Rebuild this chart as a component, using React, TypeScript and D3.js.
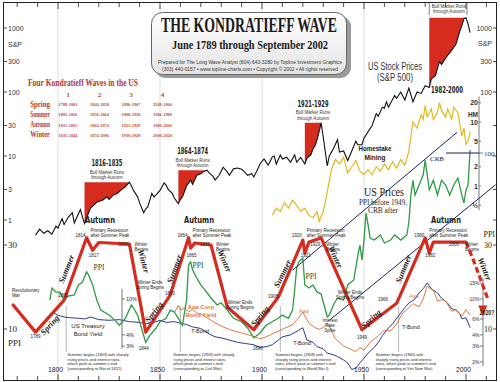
import React from "react";
import * as d3 from "d3";

type P = [number, number];

// ---------- DATA ----------
const SP_500: P[] = [
  [1789,0.58],[1791,0.72],[1793,0.62],[1795,0.68],[1797,0.60],[1799,0.80],[1800,0.75],[1802,1.05],[1803,0.85],
  [1805,1.1],[1807,1.3],[1808,0.9],[1810,1.25],[1811,1.45],[1812,1.1],[1813,0.88],[1815,1.3],[1816,1.55],
  [1818,1.75],[1819,1.9],[1821,2.0],[1822,2.05],[1824,2.3],[1825,2.1],[1827,2.45],[1829,2.6],[1831,2.95],
  [1833,3.3],[1835,3.9],[1836,3.4],[1837,2.9],[1839,2.3],[1840,1.85],[1842,1.3],[1843,1.5],[1844,1.6],
  [1846,2.6],[1847,2.3],[1848,2.45],[1850,2.9],[1852,3.8],[1853,3.5],[1854,3.0],[1856,2.6],[1857,2.2],
  [1859,1.8],[1860,2.1],[1861,2.3],[1863,3.4],[1865,4.2],[1866,3.6],[1868,5.0],[1870,5.3],[1871,5.6],
  [1873,6.0],[1874,5.5],[1876,4.8],[1877,4.2],[1879,5.0],[1881,6.7],[1883,5.6],[1884,5.0],[1886,6.3],
  [1888,6.5],[1890,6.2],[1891,5.8],[1893,5.0],[1895,5.3],[1896,4.7],[1898,6.3],[1899,7.5],[1901,9.0],
  [1903,7.2],[1905,9.6],[1906,10.0],[1907,7.5],[1909,10.4],[1910,9.0],[1912,9.6],[1914,8.0],[1916,10.4],
  [1917,8.0],[1919,9.5],[1921,7.5],[1922,9.2],[1924,10.5],[1925,13],[1926,14.5],[1927,18],[1928,24],
  [1929,33],[1930,20],[1932,7],[1933,10],[1935,13],[1937,18],[1938,11.5],[1940,12],[1942,8.5],[1944,12],
  [1946,17],[1947,15],[1949,15],[1950,19],[1952,24],[1954,30],[1956,46],[1957,42],[1959,58],[1960,56],
  [1961,70],[1962,58],[1965,88],[1966,80],[1968,100],[1970,75],[1972,115],[1974,70],[1976,100],[1978,95],
  [1980,125],[1982,118],[1983,160],[1985,180],[1987,300],[1988,270],[1990,340],[1993,450],[1995,550],
  [1996,700],[1997,900],[1998,1100],[1999,1400],[2000,1450],[2001,1150],[2002,850]
];

const BULL_RUNS: [number, number][] = [[1813,1835],[1859,1873],[1921,1929],[1982,2000]];
const BULL_LABELS = ["1816-1835","1864-1874","1921-1929","1982-2000"];

const HOMESTAKE: P[] = [
  [1905,0.35],[1907,0.45],[1909,0.4],[1911,0.55],[1913,0.45],[1915,0.6],[1917,0.5],[1919,0.4],[1921,0.45],
  [1923,0.35],[1925,0.32],[1927,0.4],[1928,0.28],[1930,0.4],[1931,0.55],[1933,1.2],[1934,1.8],[1936,2.6],
  [1938,2.2],[1940,2.8],[1942,1.6],[1944,2.0],[1946,2.5],[1948,1.7],[1950,1.5],[1952,1.8],[1954,1.5],
  [1956,2.0],[1958,1.7],[1960,2.2],[1962,1.8],[1964,2.4],[1966,1.9],[1968,2.6],[1970,2.1],[1972,3.5],
  [1973,6],[1974,10],[1976,8],[1978,13],[1979,11],[1980,18],[1981,12],[1983,16],[1984,11],[1986,14],
  [1987,20],[1988,15],[1990,12],[1991,16],[1993,11],[1994,17],[1996,14],[1997,9],[1998,6],[1999,8],
  [2000,4.5],[2001,5],[2002,7]
];

const US_PRICES: P[] = [
  [1796,14.6],[1797,17.1],[1799,16.2],[1801,16.2],[1803,14.6],[1805,15.4],[1808,15.6],[1810,17.8],[1812,18.5],
  [1814,21.1],[1815,20.3],[1817,17.8],[1819,14.6],[1821,12.8],[1825,12.0],[1828,11.2],[1830,10.5],[1833,11.5],
  [1836,13.7],[1837,13.2],[1839,12.0],[1843,8.4],[1845,9.2],[1848,10.1],[1850,11.0],[1853,11.5],[1855,12.8],
  [1857,12.5],[1859,11.5],[1861,10.5],[1863,14.6],[1864,23.1],[1865,24.0],[1866,21.6],[1868,19.5],[1870,17.8],
  [1872,16.7],[1875,15.0],[1878,13.7],[1880,14.1],[1883,12.8],[1886,11.5],[1890,11.0],[1893,10.1],[1896,8.9],
  [1899,9.5],[1902,10.5],[1905,11.0],[1908,11.5],[1910,12.0],[1913,11.5],[1915,12.8],[1916,16.7],[1917,22.2],
  [1918,24.0],[1920,25.3],[1921,17.8],[1923,17.1],[1925,17.8],[1927,16.2],[1929,15.8],[1932,11.7],[1933,12.0],
  [1935,13.7],[1937,15.0],[1940,14.6],[1942,17.8],[1945,19.0],[1947,26.3],[1948,30],[1949,24.7],[1950,32],
  [1951,45.6],[1952,39],[1953,32.9],[1955,32],[1958,34.2],[1960,30.8],[1963,32],[1965,34.2],[1968,32],
  [1971,34.2],[1972,40.5],[1973,57.7],[1974,70],[1975,57.7],[1977,65.8],[1979,75],[1980,91],[1981,75],
  [1982,61.7],[1984,70],[1986,57.7],[1988,70],[1990,65.8],[1992,57.7],[1994,65.8],[1996,72],[1998,57.7],
  [1999,52],[2000,61.7],[2001,65.8],[2002,104]
];

const T_BOND: P[] = [
  [1798,7.0],[1800,6.6],[1803,6.3],[1806,6.2],[1810,6.1],[1813,6.0],[1816,6.3],[1820,5.9],[1825,5.8],[1830,5.9],
  [1835,5.6],[1840,5.5],[1843,5.3],[1847,5.5],[1850,5.8],[1853,5.5],[1857,5.6],[1860,5.4],[1863,5.2],[1866,4.9],
  [1870,4.7],[1874,4.1],[1877,3.8],[1880,3.7],[1884,3.5],[1888,3.3],[1892,3.2],[1896,3.1],[1899,2.9],[1902,2.95],
  [1905,3.1],[1908,3.5],[1910,3.8],[1914,4.0],[1918,4.5],[1920,4.8],[1922,3.5],[1925,3.3],[1927,2.95],[1930,2.8],
  [1932,2.5],[1935,2.4],[1937,2.3],[1940,2.1],[1942,1.95],[1944,1.65],[1946,1.7],[1948,1.95],[1950,2.2],
  [1952,2.5],[1955,2.9],[1957,3.3],[1959,3.9],[1961,4.5],[1964,5.3],[1968,7.0],[1970,8.0],[1972,9.0],
  [1975,10.0],[1977,11.7],[1979,13],[1981,15.1],[1983,13],[1986,11.7],[1988,10.2],[1991,9.0],[1993,7.8],
  [1995,7.55],[1997,6.8],[1998,6.0],[2000,6.2],[2002,4.8]
];

const AAA_CORP: P[] = [
  [1857,7.0],[1859,8.5],[1860,7.5],[1862,8.0],[1864,7.2],[1866,7.6],[1868,7.0],[1870,6.8],[1873,6.2],[1876,5.6],
  [1880,5.0],[1885,4.5],[1890,4.2],[1895,3.9],[1899,3.6],[1902,3.8],[1905,4.1],[1910,4.6],[1915,5.2],[1918,6.2],
  [1920,7.2],[1921,6.5],[1923,5.4],[1926,4.8],[1928,4.6],[1930,4.8],[1932,5.4],[1934,4.5],[1936,3.6],[1940,3.0],
  [1943,2.8],[1946,2.6],[1948,2.9],[1950,2.7],[1953,3.3],[1957,3.9],[1960,4.5],[1963,4.4],[1966,5.3],[1969,7.0],
  [1971,7.6],[1974,8.9],[1977,8.2],[1979,10.0],[1981,14.0],[1982,13.2],[1984,12.5],[1986,9.5],[1988,9.8],
  [1990,9.5],[1993,7.3],[1995,7.7],[1998,6.5],[2000,7.6],[2002,6.6]
];

const K_WAVE: P[] = [
  [1778,13.7],[1789,9.6],[1803,14.6],[1814,33],[1817,28],[1820,31],[1835,30.4],[1843,9.6],[1855,15.6],
  [1864,33],[1865,28.8],[1867,30.8],[1875,30],[1883,13.3],[1896,9.9],[1908,15.2],[1920,32],[1921,27],
  [1923,31.2],[1929,32.9],[1949,9.9],[1966,14],[1980,32.9],[1982,27],[1984,31.2],[2000,31.2]
];
const K_WAVE_FORECAST: P[] = [[2000,31.2],[2004,24],[2008,18],[2011,14.5]];

const TREND_UPPER: P[] = [[1915,21.6],[1995.6,131]];
const TREND_LOWER: P[] = [[1933,11.2],[2014.5,66]];

const SP_TICKS = [1000, 300, 100, 30, 10, 3, 1];
const HM_TICKS = [20, 10, 5, 2, 1, 0.5];
const HM_TICK_LABELS = ["20", "10", "5", "2", "1", "½"];
const PPI_TICKS = [30, 10];
const YIELD_LEFT = [10, 4, 3];
const YIELD_RIGHT = [15, 10, 6, 4, 3, 2];
const YEAR_LABELS = [1800, 1850, 1900, 1950, 2000];

const TABLE_SEASONS = ["Spring", "Summer", "Autumn", "Winter"];
const TABLE_WAVES = ["1", "2", "3", "4"];
const TABLE_DATES = [
  ["1789-1803", "1844-1858", "1896-1907", "1949-1966"],
  ["1803-1816", "1858-1864", "1908-1920", "1966-1980"],
  ["1815-1835", "1864-1874", "1921-1929", "1980-2000"],
  ["1835-1844", "1874-1896", "1930-1949", "2000-2020"],
];

const SUMMER_NOTES = [
  { year: 1803, textDx: 1.5, lines: ["Summer begins (1803) with sharply", "rising prices and interest rates,", "which peak at summer's end", "(corresponding to War of 1812)."] },
  { year: 1859, textDx: -7, lines: ["Summer begins (1859) with sharply", "rising prices and interest rates,", "which peak at summer's end", "(corresponding to Civil War)."] },
  { year: 1908, textDx: -5, lines: ["Summer begins (1908) with", "sharply rising prices and interest", "rates, which peak at summer's end", "(corresponding to World War I)."] },
  { year: 1966, textDx: -23, lines: ["Summer begins (1966) with", "sharply rising prices and interest", "rates, which peak at summer's end", "(corresponding to Viet Nam War)."] },
];

// ---------- STYLE ----------
const SANS = "'Liberation Sans', Arial, sans-serif";
const SERIF = "'Liberation Serif', 'Times New Roman', serif";
const COND = "'DejaVu Sans Condensed', 'Liberation Sans Narrow', 'Liberation Sans', sans-serif";
const RED = "#d62b1f";
const GREEN = "#2e9a45";
const GOLD = "#e2b81f";
const NAVY = "#2d3a8c";
const ORANGE = "#e07844";
const BROWNRED = "#b8362a";

export default function App() {
  const W = 500, H = 382;
  const x = d3.scaleLinear().domain([1800, 2000]).range([58, 466]);
  const ySP = d3.scaleLog().domain([1, 1000]).range([220, 28]);
  const yHM = d3.scaleLog().domain([1, 10]).range([186, 122]);
  const yPPI = d3.scaleLog().domain([10, 100]).range([329, 153]);
  const yYld = d3.scaleLog().domain([1, 10]).range([389, 299]);

  const spLine = d3.line<P>().x(d => x(d[0])).y(d => ySP(d[1]));
  const hmLine = d3.line<P>().x(d => x(d[0])).y(d => yHM(d[1]));
  const ppiLine = d3.line<P>().x(d => x(d[0])).y(d => yPPI(d[1]));
  const yldLine = d3.line<P>().x(d => x(d[0])).y(d => yYld(d[1]));

  const bullAreas = BULL_RUNS.map(([a, b]) => {
    const pts = SP_500.filter(d => d[0] >= a && d[0] <= b);
    const top = d3.max(pts, d => d[1]) as number;
    return { d: d3.area<P>().x(d => x(d[0])).y0(ySP(top)).y1(d => ySP(d[1]))(pts) as string, top, a, b };
  });

  const decadeTicks = d3.range(1780, 2011, 10);

  const T = (p: { x: number; y: number; s: number; t: string; a?: string; f?: string; w?: number; fw?: string | number; ff?: string; fs?: string; rot?: number }) => (
    <text
      x={p.rot !== undefined ? 0 : p.x}
      y={p.rot !== undefined ? 0 : p.y}
      transform={p.rot !== undefined ? `translate(${p.x},${p.y}) rotate(${p.rot})` : undefined}
      fontSize={p.s}
      textAnchor={(p.a as any) || "start"}
      fill={p.f || "#222"}
      fontWeight={p.fw || "normal"}
      fontFamily={p.ff || SANS}
      fontStyle={p.fs || "normal"}
      textLength={p.w}
      lengthAdjust={p.w ? "spacingAndGlyphs" : undefined}
    >
      {p.t}
    </text>
  );

  const seasonLabels = [
    { t: "Spring", x: 52, y: 327, r: -48 }, { t: "Summer", x: 69, y: 270, r: -68 }, { t: "Winter", x: 141, y: 262, r: 74 },
    { t: "Spring", x: 156, y: 314, r: -52 }, { t: "Summer", x: 177, y: 270, r: -70 }, { t: "Winter", x: 222, y: 262, r: 66 },
    { t: "Spring", x: 262, y: 318, r: -50 }, { t: "Summer", x: 285, y: 275, r: -64 }, { t: "Winter", x: 333, y: 258, r: 66 },
    { t: "Spring", x: 373, y: 321, r: -42 }, { t: "Summer", x: 406, y: 270, r: -68 }, { t: "Winter", x: 482, y: 270, r: 68 },
  ];
  const autumnLabels = [{ x: 100, y: 223 }, { x: 199, y: 223 }, { x: 446, y: 223 }];

  const peakNotes = [
    { peak: 1814, dip: 1817, end: 1835, endDx: 0 },
    { peak: 1864, dip: 1865, end: 1875, endDx: 0 },
    { peak: 1920, dip: 1921, end: 1929, endDx: 0 },
    { peak: 1980, dip: 1982, end: 2000, endDx: -6 },
  ];

  return (
    <div style={{ position: "fixed", left: 0, top: 0 }}>
      <svg width={W} height={H} viewBox={`0 0 ${W} ${H}`} style={{ display: "block", background: "#fff" }}>
        <defs>
          <clipPath id="plot"><rect x={4} y={3} width={492} height={377} /></clipPath>
          <linearGradient id="boxg" x1="0" y1="0" x2="0" y2="1">
            <stop offset="0" stopColor="#ffffff" />
            <stop offset="1" stopColor="#e4e4e4" />
          </linearGradient>
        </defs>
        <rect x={0} y={0} width={W} height={H} fill="#fff" />

        {[1800, 1850, 1900, 1950].map(yr => (
          <line key={yr} x1={x(yr)} x2={x(yr)} y1={3} y2={380} stroke="#d6d6d6" strokeWidth={0.8} />
        ))}

        <rect x={3.5} y={2.5} width={493} height={378} fill="none" stroke="#222" strokeWidth={1} />
        {decadeTicks.map(yr => (
          <g key={yr}>
            <line x1={x(yr)} x2={x(yr)} y1={3} y2={yr % 50 === 0 ? 9 : 7} stroke="#222" strokeWidth={0.8} />
            <line x1={x(yr)} x2={x(yr)} y1={380} y2={yr % 50 === 0 ? 374 : 376} stroke="#222" strokeWidth={0.8} />
          </g>
        ))}

        {/* title box */}
        <rect x={155} y={16} width={196} height={62} rx={11} fill="#9a9a9a" />
        <rect x={151.5} y={12.5} width={195} height={62} rx={11} fill="url(#boxg)" stroke="#666" strokeWidth={1} />
        {T({ x: 249, y: 32, s: 21, t: "THE KONDRATIEFF WAVE", a: "middle", fw: "bold", ff: SERIF, w: 176, f: "#1a1a1a" })}
        {T({ x: 250, y: 48.5, s: 12, t: "June 1789 through September 2002", a: "middle", fw: "bold", ff: SERIF, w: 156, f: "#1a1a1a" })}
        {T({ x: 250, y: 64, s: 4.6, t: "Prepared for The Long Wave Analyst    (604) 643-3280 by Topline Investment Graphics", a: "middle", w: 184, f: "#333" })}
        {T({ x: 250, y: 71, s: 4.6, t: "(303) 440-0157  •  www.topline-charts.com  •  Copyright © 2002  •  All rights reserved", a: "middle", w: 176, f: "#333" })}

        {/* table */}
        {T({ x: 28, y: 86, s: 11, t: "Four Kondratieff Waves in the US", fw: "bold", ff: SERIF, w: 110, f: BROWNRED })}
        {TABLE_WAVES.map((w, i) => (
          <React.Fragment key={w}>{T({ x: 68 + i * 31.5, y: 97, s: 6.5, t: w, a: "middle", fw: "bold", ff: SERIF, f: BROWNRED })}</React.Fragment>
        ))}
        {TABLE_SEASONS.map((s, r) => (
          <g key={s}>
            {T({ x: 50, y: 106.5 + r * 10.3, s: 7.5, t: s, a: "end", fw: "bold", ff: SERIF, f: BROWNRED, w: s.length * 3.3 })}
            {TABLE_DATES[r].map((d, c) => (
              <React.Fragment key={c}>{T({ x: 68 + c * 31.5, y: 106 + r * 10.3, s: 5, t: d, a: "middle", ff: SERIF, fw: "bold", f: "#c0493a", w: 19 })}</React.Fragment>
            ))}
          </g>
        ))}

        {/* left / right axes */}
        {SP_TICKS.map(v => (
          <g key={v}>
            <line x1={3.5} x2={7} y1={ySP(v)} y2={ySP(v)} stroke="#222" strokeWidth={0.8} />
            {T({ x: 8, y: ySP(v) + 2.5, s: 7, t: String(v), f: "#333" })}
            <line x1={493} x2={496.5} y1={ySP(v)} y2={ySP(v)} stroke="#222" strokeWidth={0.8} />
          </g>
        ))}
        {[1000, 300, 100].map(v => (
          <React.Fragment key={v}>{T({ x: 492, y: ySP(v) + 2.5, s: 7, t: String(v), a: "end", f: "#333" })}</React.Fragment>
        ))}
        {T({ x: 8, y: 47, s: 7, t: "S&P", f: "#333" })}
        {T({ x: 492, y: 46, s: 7, t: "S&P", a: "end", f: "#333" })}
        {PPI_TICKS.map(v => (
          <g key={v}>
            <line x1={3.5} x2={7} y1={yPPI(v)} y2={yPPI(v)} stroke="#222" strokeWidth={0.8} />
            {T({ x: 8, y: yPPI(v) + 3, s: 9, t: String(v), ff: SERIF, f: "#222" })}
            <line x1={493} x2={496.5} y1={yPPI(v)} y2={yPPI(v)} stroke="#222" strokeWidth={0.8} />
            {T({ x: 492, y: yPPI(v) + 3, s: 8, t: String(v), a: "end", ff: SERIF, f: "#222" })}
          </g>
        ))}
        {T({ x: 8, y: 346, s: 9, t: "PPI", ff: SERIF, f: "#222" })}
        {T({ x: 495, y: 237, s: 8, t: "PPI", a: "end", ff: SERIF, f: "#222" })}

        {/* HM axis */}
        <line x1={479} x2={479} y1={yHM(25)} y2={yHM(0.42)} stroke="#555" strokeWidth={0.8} />
        {HM_TICKS.map((v, i) => (
          <g key={v}>
            <line x1={479} x2={481} y1={yHM(v)} y2={yHM(v)} stroke="#555" strokeWidth={0.8} />
            {T({ x: 478, y: yHM(v) + 2.5, s: 7, t: HM_TICK_LABELS[i], a: "end", fw: "bold", f: "#333" })}
          </g>
        ))}
        {T({ x: 478, y: 117, s: 6.5, t: "HM", a: "end", fw: "bold", f: "#333" })}
        <line x1={479} x2={483} y1={yPPI(100)} y2={yPPI(100)} stroke="#555" strokeWidth={0.8} />
        {T({ x: 484, y: yPPI(100) + 2.5, s: 7, t: "100", ff: SERIF, f: "#333" })}

        {/* yield axes */}
        <line x1={122} x2={122} y1={yYld(13)} y2={yYld(2.8)} stroke="#555" strokeWidth={0.8} />
        {YIELD_LEFT.map(v => (
          <g key={v}>
            <line x1={122} x2={125} y1={yYld(v)} y2={yYld(v)} stroke="#555" strokeWidth={0.8} />
            {T({ x: 126, y: yYld(v) + 2, s: 5.5, t: v + "%", f: "#333" })}
          </g>
        ))}
        <line x1={483} x2={483} y1={yYld(17)} y2={yYld(1.8)} stroke="#555" strokeWidth={0.8} />
        {YIELD_RIGHT.map(v => (
          <g key={v}>
            <line x1={480} x2={483} y1={yYld(v)} y2={yYld(v)} stroke="#555" strokeWidth={0.8} />
            {T({ x: 479.5, y: yYld(v) + 2, s: 5, t: v + "%", a: "end", f: "#333" })}
          </g>
        ))}

        <g clipPath="url(#plot)">
          {SUMMER_NOTES.map(n => (
            <line key={n.year} x1={x(n.year) + 2} x2={x(n.year) + 2} y1={yPPI(13.5)} y2={352} stroke="#888" strokeWidth={0.6} />
          ))}

          <path d={yldLine(T_BOND) as string} fill="none" stroke={NAVY} strokeWidth={1} />
          <path d={yldLine(AAA_CORP) as string} fill="none" stroke={ORANGE} strokeWidth={1} />

          <path d={ppiLine(US_PRICES) as string} fill="none" stroke={GREEN} strokeWidth={1.3} />

          <path d={hmLine(HOMESTAKE) as string} fill="none" stroke={GOLD} strokeWidth={1.2} />

          <path d={ppiLine(TREND_UPPER) as string} stroke="#1a1f5e" strokeWidth={1} fill="none" />
          <path d={ppiLine(TREND_LOWER) as string} stroke="#1a1f5e" strokeWidth={1} fill="none" />
          <line x1={446} x2={479} y1={yPPI(100)} y2={yPPI(100)} stroke="#1a1f5e" strokeWidth={1.2} />

          {bullAreas.map((b, i) => (
            <path key={i} d={b.d} fill={RED} stroke="none" />
          ))}
          <path d={spLine(SP_500) as string} fill="none" stroke="#111" strokeWidth={1.1} />

          <path d={ppiLine(K_WAVE) as string} fill="none" stroke={RED} strokeWidth={3.2} strokeLinejoin="round" strokeLinecap="round" />
          <path d={ppiLine(K_WAVE_FORECAST) as string} fill="none" stroke={RED} strokeWidth={3.2} strokeDasharray="6 3" />
          <path d={`M${x(2008) - 4},${yPPI(13.6)} L${x(2008) + 5},${yPPI(13.6)} L${x(2008) + 0.5},${yPPI(11.8)} Z`} fill={RED} />
        </g>

        {/* bull labels */}
        {bullAreas.map((b, i) => {
          const cx = i === 3 ? 449 : (x(b.a) + x(b.b)) / 2;
          if (i === 3) {
            return (
              <g key={i}>
                <line x1={x(b.a)} x2={x(b.a)} y1={3} y2={15} stroke="#333" strokeWidth={0.6} />
                <line x1={x(b.b) + 1} x2={x(b.b) + 1} y1={3} y2={15} stroke="#333" strokeWidth={0.6} />
                {T({ x: cx, y: 7.5, s: 4.5, t: "Bull Market Runs", a: "middle", f: "#333" })}
                {T({ x: cx, y: 12.5, s: 4.5, t: "through Autumn", a: "middle", f: "#333" })}
                {T({ x: 447, y: 93, s: 8.5, t: BULL_LABELS[i], a: "middle", fw: "bold", ff: COND, w: 32, f: "#222" })}
              </g>
            );
          }
          const topY = ySP(b.top);
          return (
            <g key={i}>
              {T({ x: cx, y: topY - 16, s: 8.5, t: BULL_LABELS[i], a: "middle", fw: "bold", ff: COND, w: 31, f: "#222" })}
              {T({ x: cx, y: topY - 8.5, s: 4.5, t: "Bull Market Runs", a: "middle", f: "#333" })}
              {T({ x: cx, y: topY - 3, s: 4.5, t: "through Autumn", a: "middle", f: "#333" })}
            </g>
          );
        })}

        {/* series labels */}
        {T({ x: 368, y: 70, s: 10, t: "US Stock Prices", f: "#333", w: 54 })}
        {T({ x: 395, y: 81, s: 10, t: "(S&P 500)", a: "middle", f: "#333", w: 36 })}
        {T({ x: 375, y: 151, s: 6.5, t: "Homestake", a: "middle", fw: "bold", f: "#222", w: 33 })}
        {T({ x: 375, y: 160, s: 6.5, t: "Mining", a: "middle", fw: "bold", f: "#222", w: 21 })}
        {T({ x: 437, y: 160.5, s: 7, t: "CRB", a: "middle", ff: SERIF, f: "#222" })}
        {T({ x: 384, y: 196, s: 12, t: "US Prices", a: "middle", ff: SERIF, f: "#222", w: 40 })}
        {T({ x: 383, y: 205, s: 8, t: "PPI before 1949,", a: "middle", ff: SERIF, f: "#222", w: 48 })}
        {T({ x: 383, y: 213, s: 8, t: "CRB after", a: "middle", ff: SERIF, f: "#222", w: 30 })}

        {seasonLabels.map((l, i) => (
          <React.Fragment key={i}>{T({ x: l.x, y: l.y, s: 8.5, t: l.t, a: "middle", fw: "bold", ff: SERIF, fs: "italic", f: "#222", rot: l.r })}</React.Fragment>
        ))}
        {autumnLabels.map((l, i) => (
          <React.Fragment key={i}>{T({ x: l.x, y: l.y, s: 9, t: "Autumn", a: "middle", fw: "bold", ff: COND, f: "#222", w: 30 })}</React.Fragment>
        ))}

        {/* peak annotations */}
        {peakNotes.map((n, i) => (
          <g key={i}>
            {T({ x: x(n.peak) - 1, y: yPPI(34) + 2, s: 4.5, t: String(n.peak), a: "end", f: "#222" })}
            {T({ x: x(n.peak) + 4, y: yPPI(34) - 3, s: 4.5, t: "Primary Recession", a: "start", f: "#222" })}
            {T({ x: x(n.peak) + 4, y: yPPI(34) + 2, s: 4.5, t: "after Summer Peak", a: "start", f: "#222" })}
            {T({ x: x(n.dip) + 1, y: yPPI(26) + 1, s: 4.5, t: String(n.dip), a: "middle", f: "#222" })}
            {T({ x: x(n.end) - 1 + n.endDx, y: yPPI(31) + 3, s: 4.5, t: String(n.end), a: "end", f: "#222" })}
            {T({ x: x(n.end) + 5 + n.endDx, y: yPPI(31) + 3, s: 4.5, t: "Winter", a: "start", f: "#222", fs: "italic" })}
            {T({ x: x(n.end) + 5 + n.endDx, y: yPPI(31) + 8, s: 4.5, t: "Begins", a: "start", f: "#222" })}
          </g>
        ))}

        {/* trough annotations */}
        {T({ x: 12, y: 292, s: 4.5, t: "Revolutionary", f: "#222" })}
        {T({ x: 12, y: 297, s: 4.5, t: "War", f: "#222" })}
        {T({ x: x(1789), y: 338, s: 4.5, t: "1789", a: "middle", f: "#222" })}
        {T({ x: x(1803) - 1, y: 297, s: 4.5, t: "1803", a: "middle", f: "#222" })}
        {[
          { x0: 150, y0: 284 },
          { x0: 240, y0: 304 },
          { x0: 350, y0: 294 },
        ].map((w, i) => (
          <g key={i}>
            {T({ x: w.x0, y: w.y0, s: 4.5, t: "Winter Ends", a: "middle", f: "#222" })}
            {T({ x: w.x0, y: w.y0 + 5, s: 4.5, t: "Spring Begins", a: "middle", f: "#222" })}
          </g>
        ))}
        {T({ x: 170, y: 295, s: 4.5, t: "1850", a: "middle", f: "#222" })}
        {T({ x: 273, y: 298, s: 4.5, t: "1908", a: "middle", f: "#222" })}
        {T({ x: 383, y: 301, s: 4.5, t: "1966", a: "middle", f: "#222" })}
        {T({ x: x(1949), y: 339, s: 4.5, t: "1949", a: "middle", f: "#222" })}
        {T({ x: x(1896) + 4, y: 350, s: 4.5, t: "1896", a: "middle", f: "#222" })}
        {T({ x: x(1843) - 2, y: 350, s: 4.5, t: "1844", a: "middle", f: "#222" })}
        {T({ x: 330, y: 322, s: 4.5, t: "Interest", a: "middle", f: "#222" })}
        {T({ x: 330, y: 327, s: 4.5, t: "Rate", a: "middle", f: "#222" })}
        {T({ x: 330, y: 332, s: 4.5, t: "Spike", a: "middle", f: "#222" })}

        {T({ x: 99, y: 270, s: 7.5, t: "PPI", a: "middle", ff: SERIF, f: "#1d4a26" })}
        {T({ x: 198, y: 268, s: 7.5, t: "PPI", a: "middle", ff: SERIF, f: "#1d4a26" })}
        {T({ x: 311, y: 279, s: 7.5, t: "PPI", a: "middle", ff: SERIF, f: "#1d4a26" })}

        {T({ x: 88, y: 328, s: 6, t: "US Treasury", a: "middle", f: "#222" })}
        {T({ x: 88, y: 336, s: 6, t: "Bond Yield", a: "middle", f: "#222" })}
        {T({ x: 200, y: 333, s: 5.5, t: "T-Bond", a: "middle", f: "#222" })}
        {T({ x: 302, y: 345, s: 5.5, t: "T-Bond", a: "middle", f: "#222" })}
        {T({ x: 411, y: 329, s: 5.5, t: "T-Bond", a: "middle", f: "#222" })}
        {T({ x: 201, y: 309, s: 6, t: "Aaa Corp", a: "middle", fw: "bold", f: ORANGE })}
        {T({ x: 201, y: 317, s: 6, t: "Bond Yield", a: "middle", fw: "bold", f: ORANGE })}
        {T({ x: 304, y: 313, s: 5.5, t: "Aaa", a: "middle", f: ORANGE })}
        {T({ x: 414, y: 298, s: 5.5, t: "Aaa", a: "middle", f: ORANGE })}
        {T({ x: 487, y: 315, s: 7, t: "2020?", a: "middle", fw: "bold", f: "#222", w: 15 })}

        {SUMMER_NOTES.map(n => (
          <g key={n.year}>
            {n.lines.map((ln, j) => (
              <React.Fragment key={j}>{T({ x: x(n.year) + 2 + n.textDx, y: 356 + j * 4.6, s: 3.9, t: ln, f: "#222" })}</React.Fragment>
            ))}
          </g>
        ))}

        {YEAR_LABELS.map(yr => (
          <React.Fragment key={yr}>{T({ x: x(yr) - 2.5, y: 372, s: 8, t: String(yr), a: "middle", f: "#222", w: 15 })}</React.Fragment>
        ))}
      </svg>
    </div>
  );
}
